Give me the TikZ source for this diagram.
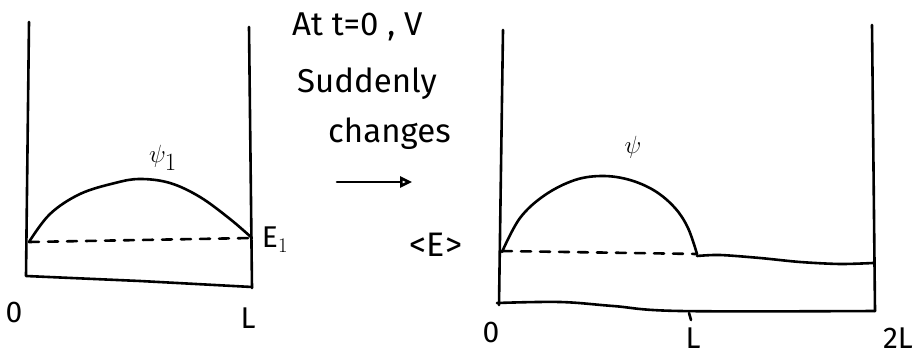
\documentclass[tikz,border=0pt]{standalone}
\usepackage{fontspec}
\setmainfont{Fira Sans}
\usetikzlibrary{arrows.meta}
\tikzset{
  ink/.style={line width=2.6pt, line cap=round, line join=round},
  dashink/.style={ink, dash pattern=on 10pt off 9pt},
  lbl/.style={font=\fontsize{30}{34}\selectfont, inner sep=0pt},
  note/.style={font=\fontsize{33}{38}\selectfont, inner sep=0pt, anchor=west}
}
\begin{document}
\begin{tikzpicture}[x=1pt,y=-1pt]
\useasboundingbox (0,0) rectangle (920,358);
% ---- left well ----
\draw[ink] (29,22) -- (26,276) -- (140,281) -- (252,287);
\draw[ink] (249,27) -- (252,288);
\draw[ink] plot[smooth, tension=0.6] coordinates {(29,242) (50,214) (80,194) (115,183) (140,179) (170,183) (200,197) (230,219) (252,238)};
\draw[dashink] (29,242) -- (252,238);
\node[lbl, font=\fontsize{34}{38}\selectfont] (psi1) at (163,158) {$\psi_{1}$};
\node[lbl] (E1) at (275,240) {E$_{1}$};
\node[lbl] (zeroA) at (14,312) {0};
\node[lbl] (LA) at (248,318) {L};
% ---- middle text ----
\node[note] (t1) at (292,27) {At t=0 , V};
\node[note] (t2) at (297,84) {Suddenly};
\node[note] (t3) at (328,134) {changes};
\coordinate (arA) at (337,182);
\coordinate (arB) at (412,182);
\draw[ink, -{Triangle[open, length=12pt, width=11pt]}] (arA) -- (arB);
\node[lbl, font=\fontsize{34}{38}\selectfont] (Eavg) at (436,245) {<E>};
% ---- right well ----
\draw[ink] (503,30) -- (499,305);
\draw[ink] (872,25) -- (875,311);
\draw[ink] plot[smooth, tension=0.6] coordinates {(497,303) (560,302) (613,306) (680,311) (875,311)};
\draw[ink] plot[smooth, tension=0.6] coordinates {(502,252) (520,218) (545,195) (575,180) (603,176) (630,180) (655,191) (675,208) (688,228) (697,254)};
\draw[dashink] (502,251) -- (697,254);
\draw[ink] plot[smooth, tension=0.5] coordinates {(697,256) (720,255) (760,258) (800,262) (840,264) (873,263)};
\draw[ink] (689,313) -- (691,320);
\node[lbl, font=\fontsize{34}{38}\selectfont] (psi) at (633,147) {$\psi$};
\node[lbl] (zeroB) at (491,332) {0};
\node[lbl] (LB) at (693,338) {L};
\node[lbl] (twoL) at (898,338) {2L};
\end{tikzpicture}
\end{document}
